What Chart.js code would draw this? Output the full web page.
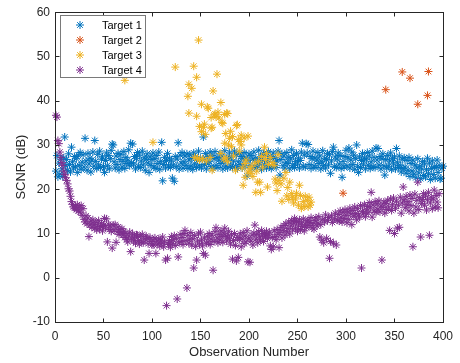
<!DOCTYPE html>
<html>
<head>
<meta charset="utf-8">
<script src="https://cdn.jsdelivr.net/npm/chart.js@4.4.1/dist/chart.umd.min.js"></script>
<style>
  html, body { margin: 0; padding: 0; background: #fff; }
</style>
</head>
<body>
<canvas id="c" width="460" height="363"></canvas>
<script>
const seriesNames = ['Target 1', 'Target 2', 'Target 3', 'Target 4'];
const seriesColors = ['#0072BD', '#D95319', '#EDB120', '#7E2F8E'];
const xTicks = [0, 50, 100, 150, 200, 250, 300, 350, 400];
const yTicks = [-10, 0, 10, 20, 30, 40, 50, 60];

// Target 1: one value per observation, starting at observation 1
const target1 = [
  24.1, 27.6, 22.8, 25.9, 23.4, 26.8, 24.6, 22.9, 27.1, 31.8, 25.3, 26.7, 24.2, 28.0, 25.6, 23.9, 29.5, 26.2, 24.8, 27.4,
  25.1, 26.9, 23.8, 27.7, 25.4, 28.3, 24.5, 26.1, 27.8, 25.0, 31.5, 26.4, 24.3, 28.1, 25.7, 27.0, 23.9, 26.6, 28.4, 25.2,
  31.0, 26.3, 24.7, 27.9, 25.5, 28.6, 24.9, 26.8, 27.3, 25.1, 23.8, 26.5, 28.2, 25.3, 27.6, 24.6, 26.9, 28.8, 30.2, 30.0,
  26.2, 24.8, 27.5, 25.6, 28.1, 24.4, 26.7, 27.9, 25.0, 26.3, 28.5, 24.7, 27.2, 25.8, 26.6, 28.9, 25.3, 30.4, 26.0, 30.2,
  25.7, 27.4, 24.6, 26.9, 28.3, 25.2, 27.7, 24.9, 26.4, 28.6, 25.5, 27.1, 24.3, 26.8, 28.0, 25.9, 23.8, 27.3, 25.4, 26.7,
  28.2, 25.0, 26.9, 24.7, 27.6, 25.8, 28.4, 24.5, 26.3, 30.6, 21.9, 25.6, 27.2, 24.8, 26.5, 28.1, 25.3, 27.0, 24.9, 26.4,
  22.5, 25.5, 21.8, 27.4, 25.1, 26.8, 30.5, 24.6, 27.7, 25.9, 28.3, 24.8, 26.2, 27.5, 25.4, 28.0, 24.7, 26.6, 27.8, 25.2,
  26.9, 24.5, 28.2, 25.7, 27.3, 24.9, 26.5, 28.6, 25.3, 27.0, 24.8, 26.7, 31.8, 25.6, 28.1, 24.6, 27.4, 25.9, 26.3, 28.4,
  25.1, 27.6, 24.7, 26.9, 28.5, 25.4, 27.2, 24.9, 26.6, 28.0, 25.8, 27.5, 24.6, 26.3, 28.7, 25.2, 27.0, 24.8, 26.8, 28.2,
  25.5, 27.3, 24.9, 26.4, 28.6, 25.1, 27.8, 24.7, 26.2, 28.1, 25.6, 27.4, 24.8, 26.9, 28.3, 25.3, 27.1, 23.0, 26.5, 28.0,
  25.4, 27.6, 24.6, 26.8, 28.4, 25.2, 27.0, 24.9, 26.3, 28.8, 25.7, 27.3, 24.5, 26.6, 28.1, 25.5, 27.7, 24.8, 26.2, 28.5,
  25.1, 27.4, 24.7, 26.9, 28.2, 25.6, 27.1, 24.9, 26.4, 28.6, 31.0, 23.2, 26.7, 28.0, 25.3, 27.5, 24.8, 26.1, 28.3, 25.8,
  27.2, 24.6, 26.8, 28.9, 25.4, 27.6, 24.9, 26.3, 28.1, 25.7, 27.0, 24.8, 26.5, 28.4, 30.4, 25.2, 27.7, 25.0, 30.3, 28.2,
  30.1, 25.6, 27.4, 24.7, 26.9, 28.6, 25.3, 27.1, 24.9, 26.6, 28.3, 25.8, 27.5, 24.6, 26.2, 28.7, 25.4, 27.0, 24.8, 26.7,
  28.1, 25.5, 27.8, 23.6, 26.4, 28.5, 29.5, 25.1, 27.3, 24.9, 26.8, 28.2, 25.7, 27.6, 24.7, 22.7, 26.3, 25.0, 27.4, 28.8,
  25.3, 27.1, 29.3, 24.8, 26.6, 28.4, 25.6, 27.7, 24.5, 26.9, 30.0, 25.2, 23.8, 27.3, 24.9, 26.5, 28.1, 25.7, 27.0, 24.6,
  26.8, 28.3, 25.4, 27.5, 24.7, 26.2, 28.6, 25.1, 27.2, 24.9, 29.3, 26.6, 29.2, 25.5, 27.4, 24.6, 26.9, 28.0, 25.3, 23.2,
  26.7, 24.8, 27.6, 25.2, 26.4, 28.2, 24.5, 26.9, 25.7, 27.3, 24.6, 29.2, 26.1, 24.9, 27.5, 25.4, 23.9, 26.8, 24.7, 27.1,
  25.0, 23.6, 26.5, 24.3, 27.2, 22.9, 25.8, 24.1, 26.6, 23.4, 25.5, 22.6, 24.8, 26.9, 23.7, 25.2, 22.4, 24.6, 26.3, 23.1,
  25.7, 22.8, 24.4, 27.0, 23.5, 25.9, 22.2, 24.7, 26.4, 23.3, 25.1, 22.5, 24.9, 26.6, 23.8, 25.4, 22.3, 22.5, 24.8, 25.2
];

// Target 2: sparse detections
const target2Obs = [297, 341, 358, 366, 374, 384, 385];
const target2 = [19.1, 42.5, 46.5, 45.1, 39.2, 41.2, 46.6];

// Target 3: sparse detections
const target3Obs = [
  72, 101, 124, 137, 138, 138, 141, 143, 144, 146, 146, 147, 148, 149, 149, 151, 151, 152, 153, 154,
  155, 156, 157, 158, 160, 161, 161, 162, 162, 163, 164, 165, 166, 167, 168, 169, 171, 171, 172, 173,
  174, 175, 175, 176, 176, 177, 178, 178, 179, 180, 181, 182, 183, 184, 186, 187, 188, 189, 190, 191,
  192, 192, 193, 194, 195, 196, 196, 197, 199, 199, 201, 202, 203, 204, 206, 207, 208, 209, 210, 211,
  212, 213, 214, 216, 217, 218, 219, 220, 222, 224, 226, 227, 228, 229, 230, 231, 233, 234, 236, 238,
  239, 240, 241, 242, 244, 245, 246, 248, 249, 251, 252, 253, 254, 256, 257, 258, 260, 261, 262, 263,
  264
];
const target3 = [
  44.6, 30.6, 47.6, 41.0, 37.2, 43.7, 42.8, 47.8, 27.2, 45.3, 36.5, 27.0, 53.7, 34.2, 26.6, 39.2, 33.0, 26.9, 34.0, 34.7,
  32.4, 26.4, 38.6, 38.3, 27.2, 36.2, 33.8, 24.3, 34.0, 42.2, 36.8, 37.0, 36.4, 46.0, 37.4, 36.1, 39.6, 28.1, 35.1, 34.9,
  26.8, 30.4, 36.9, 32.6, 27.1, 37.2, 37.1, 26.2, 30.0, 31.5, 33.1, 29.6, 31.9, 27.5, 24.3, 34.4, 34.6, 31.2, 28.6, 30.8,
  32.2, 30.0, 24.8, 20.9, 31.6, 22.7, 25.8, 26.6, 32.0, 23.9, 24.6, 23.6, 25.2, 22.9, 25.9, 19.3, 24.1, 21.6, 26.3, 21.6,
  19.3, 27.4, 25.0, 29.5, 26.7, 28.1, 20.5, 25.6, 27.2, 26.0, 25.4, 22.3, 21.4, 19.7, 27.8, 22.0, 21.2, 17.3, 22.5, 23.8,
  18.5, 20.4, 17.7, 21.6, 19.0, 18.2, 16.9, 17.8, 19.1, 16.4, 20.9, 18.6, 15.7, 17.2, 16.1, 18.4, 17.5, 16.0, 18.2, 16.4,
  17.1
];

// Target 4: one value per observation, starting at observation 1
const target4 = [
  36.7, 36.3, 31.0, 30.3, 28.4, 27.2, 26.0, 25.4, 24.1, 23.3, 22.6, 22.0, 21.2, 20.1, 19.6, 18.4, 17.2, 16.6, 16.0, 15.7,
  16.2, 15.4, 16.5, 15.1, 15.9, 14.8, 16.3, 14.1, 15.6, 13.2, 12.6, 14.0, 12.2, 13.5, 9.3, 11.9, 12.8, 11.4, 13.1, 12.0,
  11.2, 12.5, 10.8, 11.7, 12.9, 11.0, 11.6, 12.3, 10.6, 11.8, 13.4, 11.3, 13.3, 8.1, 12.1, 10.9, 11.7, 10.5, 6.7, 11.9,
  10.8, 12.0, 8.0, 10.4, 11.5, 9.8, 10.9, 10.2, 11.1, 9.6, 10.5, 9.1, 10.0, 8.6, 8.1, 9.4, 10.3, 5.9, 8.8, 9.9,
  8.3, 9.2, 7.8, 9.7, 9.6, 8.4, 7.6, 9.3, 8.1, 9.8, 7.9, 4.0, 8.7, 9.4, 8.9, 7.7, 5.5, 9.1, 8.2, 7.4,
  8.6, 7.4, 9.0, 5.5, 8.3, 7.6, 8.8, 7.2, 8.5, 7.8, 9.2, 7.0, 8.1, 4.0, -6.3, 4.4, 7.5, 8.4, 6.9, 9.3,
  7.7, 8.6, 9.5, 7.3, 8.9, -4.8, 4.7, 7.9, 9.8, 8.2, 9.1, 7.5, 10.0, 10.7, 8.4, -2.3, 9.6, 7.8, 8.7, 10.2,
  7.4, 8.8, 2.2, 9.5, 7.1, 4.0, 8.3, 9.9, 7.6, 10.3, 8.5, 7.2, 5.5, 9.0, 5.1, 7.8, 9.4, 8.1, 10.0, 7.5,
  8.7, 9.6, 1.7, 8.2, 10.4, 11.3, 9.0, 7.9, 9.8, 8.5, 10.6, 9.3, 8.0, 10.1, 11.2, 9.5, 8.3, 9.2, 10.5, 8.8,
  7.6, 9.7, 4.2, 8.4, 10.0, 7.3, 3.8, 9.1, 4.6, 8.6, 9.9, 7.0, 8.8, 10.2, 7.7, 9.4, 8.1, 10.6, 3.6, 9.0,
  3.5, 8.3, 9.6, 7.4, 10.1, 11.9, 8.7, 9.8, 7.9, 10.4, 9.2, 8.5, 10.7, 9.5, 8.2, 10.0, 9.4, 10.5, 8.9, 9.7,
  10.3, 7.2, 6.4, 9.1, 7.0, 10.6, 9.3, 8.6, 10.9, 9.8, 6.8, 10.2, 11.4, 9.0, 10.7, 11.8, 9.6, 12.2, 10.4, 11.1,
  12.6, 9.9, 11.7, 12.9, 10.8, 12.3, 13.4, 11.2, 12.7, 10.5, 11.9, 13.1, 10.9, 12.4, 11.6, 13.3, 10.6, 12.1, 11.4, 12.8,
  13.0, 11.8, 12.5, 13.6, 11.3, 12.2, 11.0, 12.9, 13.5, 11.7, 12.4, 13.8, 9.2, 12.0, 8.5, 13.2, 7.9, 12.6, 14.2, 8.9,
  12.9, 13.6, 4.4, 8.2, 14.0, 12.5, 7.8, 13.3, 14.6, 7.4, 13.0, 14.3, 12.8, 15.1, 13.7, 12.6, 14.8, 13.4, 15.4, 14.1,
  12.4, 14.9, 13.2, 15.7, 14.4, 12.0, 15.2, 13.9, 16.0, 14.5, 13.1, 15.6, 14.2, 13.7, 16.3, 2.2, 15.0, 14.6, 16.5, 13.8,
  15.3, 16.1, 14.7, 17.0, 15.8, 19.3, 13.7, 16.4, 15.1, 17.2, 14.8, 16.7, 15.5, 17.4, 14.9, 16.2, 4.0, 15.9, 17.1, 14.6,
  16.8, 15.4, 17.5, 16.0, 10.7, 17.8, 15.2, 16.6, 18.0, 10.0, 15.7, 17.3, 11.2, 16.4, 11.4, 18.2, 14.6, 16.9, 20.5, 17.6,
  15.8, 18.4, 16.5, 17.2, 15.1, 18.7, 16.3, 17.9, 7.0, 14.6, 18.9, 16.0, 17.5, 21.6, 15.4, 18.1, 9.2, 16.8, 17.7, 19.0,
  16.4, 18.5, 15.3, 17.6, 19.3, 9.6, 16.9, 18.2, 15.6, 17.8, 19.8, 16.0, 18.6, 17.1, 15.8, 19.0
];

const seq = ys => ys.map((y, i) => ({ x: i + 1, y: y }));
const pair = (xs, ys) => xs.map((x, i) => ({ x: x, y: ys[i] }));

const allData = [seq(target1), pair(target2Obs, target2), pair(target3Obs, target3), seq(target4)];
const FONT = "'Liberation Sans', Arial, Helvetica, sans-serif";
const AXIS = '#262626';

// asterisk marker, same shape as pointStyle 'star'
function drawStar(ctx, x, y, r) {
  const d = r * Math.SQRT1_2;
  ctx.beginPath();
  ctx.moveTo(x - r, y); ctx.lineTo(x + r, y);
  ctx.moveTo(x, y - r); ctx.lineTo(x, y + r);
  ctx.moveTo(x - d, y - d); ctx.lineTo(x + d, y + d);
  ctx.moveTo(x - d, y + d); ctx.lineTo(x + d, y - d);
  ctx.stroke();
}

const matlabBox = {
  id: 'matlabBox',
  afterDraw(chart) {
    const { ctx, chartArea: a, scales } = chart;
    ctx.save();
    ctx.strokeStyle = AXIS;
    ctx.lineWidth = 1;
    const L = Math.round(a.left) + 0.5, R = Math.round(a.right) + 0.5;
    const T = Math.round(a.top) + 0.5, B = Math.round(a.bottom) + 0.5;
    ctx.strokeRect(L, T, R - L, B - T);
    const tl = 4;
    ctx.beginPath();
    scales.x.ticks.forEach(t => {
      const px = Math.round(scales.x.getPixelForValue(t.value)) + 0.5;
      ctx.moveTo(px, B); ctx.lineTo(px, B - tl);
      ctx.moveTo(px, T); ctx.lineTo(px, T + tl);
    });
    scales.y.ticks.forEach(t => {
      const py = Math.round(scales.y.getPixelForValue(t.value)) + 0.5;
      ctx.moveTo(L, py); ctx.lineTo(L + tl, py);
      ctx.moveTo(R, py); ctx.lineTo(R - tl, py);
    });
    ctx.stroke();

    // legend
    const bx = 60.5, by = 15.5, bw = 85, bh = 62;
    ctx.fillStyle = '#fff';
    ctx.fillRect(bx, by, bw, bh);
    ctx.strokeStyle = '#7a7a7a';
    ctx.strokeRect(bx, by, bw, bh);
    ctx.font = '11px ' + FONT;
    ctx.textBaseline = 'middle';
    ctx.textAlign = 'left';
    chart.data.datasets.forEach((ds, i) => {
      const yy = by + 9.5 + i * 15;
      ctx.strokeStyle = ds.borderColor;
      drawStar(ctx, 80, yy, 4);
      ctx.fillStyle = '#000';
      ctx.fillText(ds.label, 102, yy + 0.5);
    });
    ctx.restore();
  }
};

new Chart(document.getElementById('c'), {
  type: 'scatter',
  data: {
    datasets: seriesNames.map((name, i) => ({
      label: name,
      data: allData[i],
      borderColor: seriesColors[i],
      backgroundColor: seriesColors[i],
      pointStyle: 'star',
      pointRadius: 4,
      pointBorderWidth: 1,
      pointHoverRadius: 4,
      order: 4 - i,
      clip: false
    }))
  },
  options: {
    responsive: false,
    animation: false,
    events: [],
    layout: { padding: { top: 12, right: 13, left: 0, bottom: 0 } },
    plugins: { legend: { display: false }, tooltip: { enabled: false } },
    scales: {
      x: {
        type: 'linear', min: 0, max: 400,
        afterBuildTicks: s => { s.ticks = xTicks.map(v => ({ value: v })); },
        afterFit: s => { s.height = 41; },
        grid: { display: false, drawTicks: false },
        border: { display: false },
        ticks: { color: AXIS, padding: 7, maxRotation: 0, font: { family: FONT, size: 12 } },
        title: { display: true, text: 'Observation Number', color: AXIS,
                 padding: { top: 0, bottom: 3 }, font: { family: FONT, size: 13 } }
      },
      y: {
        type: 'linear', min: -10, max: 60,
        afterBuildTicks: s => { s.ticks = yTicks.map(v => ({ value: v })); },
        afterFit: s => { s.width = 55; },
        grid: { display: false, drawTicks: false },
        border: { display: false },
        ticks: { color: AXIS, padding: 5, font: { family: FONT, size: 12 } },
        title: { display: true, text: 'SCNR (dB)', color: AXIS,
                 padding: { top: 14, bottom: 0 }, font: { family: FONT, size: 13 } }
      }
    }
  },
  plugins: [matlabBox]
});
</script>
</body>
</html>
